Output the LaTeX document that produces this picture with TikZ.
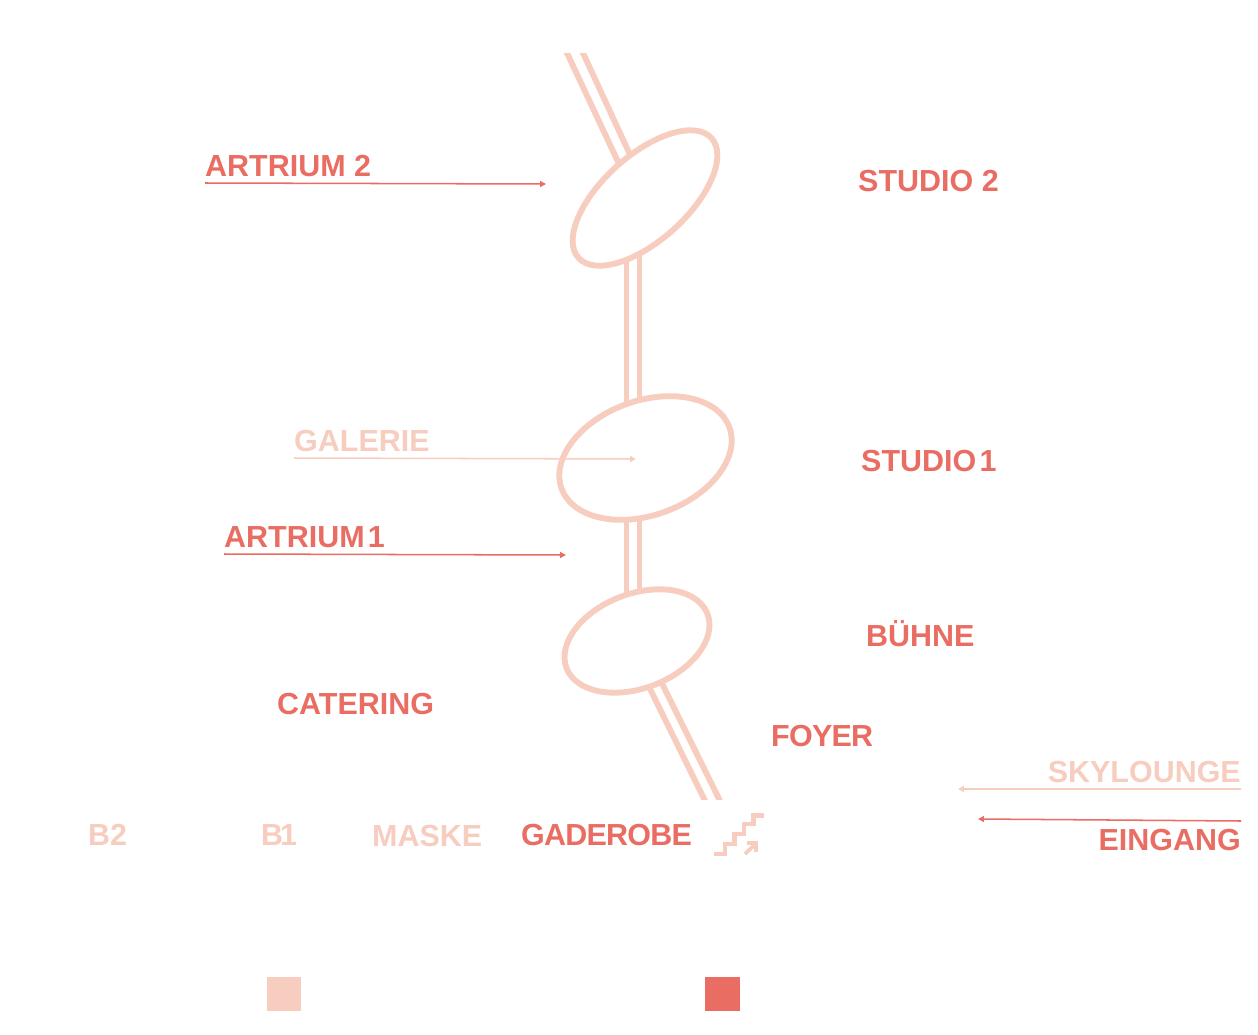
\documentclass[tikz,border=0pt]{standalone}
\usepackage{fontspec}
\setmainfont{Liberation Sans}
\definecolor{paleRose}{RGB}{247, 205, 191}
\definecolor{coral}{RGB}{233, 109, 99}
\usetikzlibrary{shapes.geometric, arrows.meta, calc, backgrounds}

\begin{document}
\begin{tikzpicture}[x=0.03cm, y=-0.03cm,
    tag/.style={font=\fontsize{26}{30}\selectfont\bfseries, inner sep=0pt, anchor=base west},
    tagtight/.style={tag, font=\fontsize{26}{30}\selectfont\bfseries\addfontfeature{LetterSpace=-2.5}},
    tagright/.style={tag, anchor=base east},
    hall/.style={ellipse, draw=paleRose, fill=white, line width=5pt, inner sep=0pt},
    rail/.style={draw=paleRose, line width=5pt},
    pointer/.style={line width=1.3pt, -{Triangle[length=5pt, width=5pt]}},
    swatch/.style={minimum size=1.03cm, inner sep=0pt}]
    \useasboundingbox (0,0) rectangle (1258,1034);

    % Halls
    \node[hall, rotate=42, minimum width=5.37cm, minimum height=2.55cm] (hallA) at (645,198) {};
    \node[hall, rotate=20, minimum width=5.36cm, minimum height=3.43cm] (hallB) at (645.5,458) {};
    \node[hall, rotate=21, minimum width=4.53cm, minimum height=2.83cm] (hallC) at (637,641) {};

    % Free ends of the rails
    \coordinate (topL) at (559.5,37);
    \coordinate (topR) at (575.6,37);
    \coordinate (botL) at (712,815);
    \coordinate (botR) at (727,815);
    \coordinate (galerieEnd) at (636,459);
    \coordinate (artriumAEnd) at (566,555);
    \coordinate (artriumBEnd) at (546,184);
    \coordinate (skyEnd) at (958,789);
    \coordinate (eingangEnd) at (978,819);

    % Rails behind the halls
    \begin{scope}[on background layer]
        \clip (0,53) rectangle (1258,799);
        \draw[rail] (topL) -- ($(hallA)+(-10,0)$);
        \draw[rail] (topR) -- ($(hallA)+(5,0)$);
        \draw[rail] ($(hallA)+(-18.5,0)$) -- ($(hallB)+(-19,0)$);
        \draw[rail] ($(hallA)+(-5.5,0)$) -- ($(hallB)+(-6,0)$);
        \draw[rail] ($(hallB)+(-19,0)$) -- ($(hallC)+(-10.5,0)$);
        \draw[rail] ($(hallB)+(-6,0)$) -- ($(hallC)+(2.5,0)$);
        \draw[rail] ($(hallC)+(-10.5,0)$) -- (botL);
        \draw[rail] ($(hallC)+(4,0)$) -- (botR);
    \end{scope}

    % Labels
    \node[tag, coral] (artriumB) at (205,176) {ARTRIUM 2};
    \node[tag, coral] (studioB) at (858,191) {STUDIO 2};
    \node[tag, paleRose] (galerie) at (294,451) {GALERIE};
    \node[tag, coral] (studioA) at (861,471) {STUDIO\kern-.17em\ 1};
    \node[tag, coral] (artriumA) at (224,547) {ARTRIUM\kern-.17em\ 1};
    \node[tag, coral] (buehne) at (866,646) {BÜHNE};
    \node[tag, coral] (catering) at (277,714) {CATERING};
    \node[tagtight, coral] (foyer) at (771,746) {FOYER};
    \node[tag, paleRose] (bTwo) at (88,845) {B2};
    \node[tag, paleRose] (bOne) at (261,845) {B\kern-.1em\relax 1};
    \node[tag, paleRose] (maske) at (372,846) {MASKE};
    \node[tagtight, coral] (gaderobe) at (521,845) {GADEROBE};
    \node[tagright, paleRose] (sky) at (1241,782) {SKYLOUNGE};
    \node[tagright, coral] (eingang) at (1241,850) {EINGANG};

    % Pointers under the labels
    \draw[pointer, coral] ($(artriumB.base west)+(0,7)$) -- (artriumBEnd);
    \draw[pointer, paleRose] ($(galerie.base west)+(0,7)$) -- (galerieEnd);
    \draw[pointer, coral] ($(artriumA.base west)+(0,7)$) -- (artriumAEnd);
    \draw[pointer, paleRose] ($(sky.base east)+(0,7)$) -- (skyEnd);
    \draw[pointer, coral] ($(eingang.base east)+(0,-29)$) -- (eingangEnd);

    % Stairs icon
    \draw[paleRose, line width=3.8pt] (714,854) -- (725,854) -- (725,844) -- (734.3,844) -- (734.3,834)
        -- (744,834) -- (744,824) -- (753.3,824) -- (753.3,815.7) -- (764,815.7);
    \draw[paleRose, line width=3.2pt] (745,854) -- (756,843.3);
    \draw[paleRose, line width=3.2pt] (746.7,843.3) -- (756,843.3) -- (756,851.7);

    % Legend
    \node[swatch, fill=paleRose] (keyPale) at (284,994) {};
    \node[swatch, fill=coral] (keyCoral) at (722.5,994) {};
\end{tikzpicture}
\end{document}
